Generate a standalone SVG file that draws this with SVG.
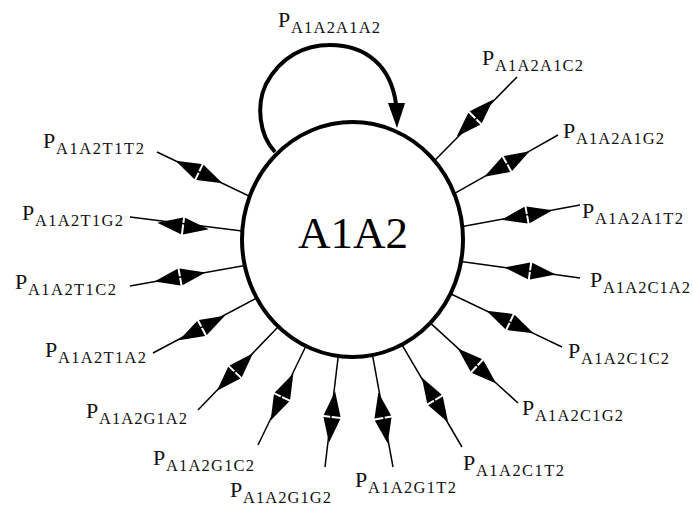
<svg xmlns="http://www.w3.org/2000/svg" width="693" height="506" viewBox="0 0 693 506">
  <style>
    .spoke { stroke: #000; stroke-width: 1.5; fill: none; }
    .loop { stroke: #000; stroke-width: 4; fill: none; }
    .node { stroke: #000; stroke-width: 4; fill: #fff; }
    .head { fill: #000; }
    .p { font-family: "Liberation Serif", "Times New Roman", serif; font-size: 22px; fill: #111; }
    .s { font-family: "Liberation Serif", "Times New Roman", serif; font-size: 16.5px; fill: #111; }
    .big { font-family: "Liberation Serif", "Times New Roman", serif; font-size: 45px; fill: #000; }
  </style>
  <defs>
    <!-- double arrowhead: two heads base to base with a thin white split -->
    <g id="dbl">
      <path class="head" d="M-26,0 L-1,-8.5 L-1,8.5 Z"/>
      <path class="head" d="M26,0 L1,-8.5 L1,8.5 Z"/>
    </g>
  </defs>
  <rect width="693" height="506" fill="#fff"/>

  <g id="connectors">
    <line class="spoke" x1="427.5" y1="167.7" x2="517" y2="77"/>
    <use href="#dbl" transform="translate(475,118) rotate(-45.4)"/>
    <line class="spoke" x1="444" y1="199.4" x2="558" y2="135"/>
    <use href="#dbl" transform="translate(507,164) rotate(-29.4)"/>
    <line class="spoke" x1="450.2" y1="228.7" x2="580" y2="205"/>
    <use href="#dbl" transform="translate(527,215) rotate(-10.3)"/>
    <line class="spoke" x1="450.1" y1="259.9" x2="580" y2="278"/>
    <use href="#dbl" transform="translate(530,271) rotate(7.9)"/>
    <line class="spoke" x1="439.5" y1="288.5" x2="562" y2="347"/>
    <use href="#dbl" transform="translate(510,322) rotate(25.5)"/>
    <line class="spoke" x1="426.9" y1="319.9" x2="518" y2="403"/>
    <use href="#dbl" transform="translate(477,366) rotate(42.4)"/>
    <line class="spoke" x1="400.4" y1="342.1" x2="462" y2="447"/>
    <use href="#dbl" transform="translate(435,400) rotate(59.6)"/>
    <line class="spoke" x1="370.3" y1="343.2" x2="393" y2="467"/>
    <use href="#dbl" transform="translate(383,418) rotate(79.6)"/>
    <line class="spoke" x1="339.8" y1="343.1" x2="325" y2="467"/>
    <use href="#dbl" transform="translate(332,417) rotate(96.8)"/>
    <line class="spoke" x1="311.5" y1="334.5" x2="258" y2="445"/>
    <use href="#dbl" transform="translate(282,397) rotate(115.9)"/>
    <line class="spoke" x1="287.4" y1="317.2" x2="198" y2="410"/>
    <use href="#dbl" transform="translate(235,372) rotate(133.9)"/>
    <line class="spoke" x1="266.2" y1="293" x2="153" y2="353"/>
    <use href="#dbl" transform="translate(202,328) rotate(152)"/>
    <line class="spoke" x1="256.8" y1="263.4" x2="130" y2="286"/>
    <use href="#dbl" transform="translate(180,277) rotate(169.9)"/>
    <line class="spoke" x1="256.9" y1="232.9" x2="130" y2="217"/>
    <use href="#dbl" transform="translate(183,226) rotate(187.1)"/>
    <line class="spoke" x1="260.5" y1="201.5" x2="157" y2="152"/>
    <use href="#dbl" transform="translate(199,172) rotate(205.5)"/>
  </g>

  <g id="node-A1A2">
    <ellipse class="node" cx="352.5" cy="239.5" rx="110.5" ry="117.5"/>
    <text class="big" x="298" y="248">A1A2</text>
  </g>

  <g id="self-loop">
    <path class="loop" d="M275,152 C259,135 256,105 266,84 C281,56 305,45 330,45 C366,45 391,66 396,104"/>
    <polygon class="head" points="388,103 405,103 397,128"/>
  </g>

  <g id="labels">
    <text class="p" x="278" y="27">P</text><text class="s" x="291" y="33" textLength="89" lengthAdjust="spacing">A1A2A1A2</text>
    <text class="p" x="482" y="65">P</text><text class="s" x="495" y="71" textLength="88" lengthAdjust="spacing">A1A2A1C2</text>
    <text class="p" x="563" y="138">P</text><text class="s" x="576" y="144" textLength="88" lengthAdjust="spacing">A1A2A1G2</text>
    <text class="p" x="582" y="218">P</text><text class="s" x="595" y="224" textLength="88" lengthAdjust="spacing">A1A2A1T2</text>
    <text class="p" x="590" y="287">P</text><text class="s" x="603" y="293" textLength="87" lengthAdjust="spacing">A1A2C1A2</text>
    <text class="p" x="568" y="358">P</text><text class="s" x="581" y="364" textLength="88" lengthAdjust="spacing">A1A2C1C2</text>
    <text class="p" x="522" y="415">P</text><text class="s" x="535" y="421" textLength="88" lengthAdjust="spacing">A1A2C1G2</text>
    <text class="p" x="463" y="470">P</text><text class="s" x="476" y="476" textLength="88" lengthAdjust="spacing">A1A2C1T2</text>
    <text class="p" x="355" y="487">P</text><text class="s" x="368" y="493" textLength="88" lengthAdjust="spacing">A1A2G1T2</text>
    <text class="p" x="230" y="497">P</text><text class="s" x="243" y="503" textLength="88" lengthAdjust="spacing">A1A2G1G2</text>
    <text class="p" x="153" y="465">P</text><text class="s" x="166" y="471" textLength="88" lengthAdjust="spacing">A1A2G1C2</text>
    <text class="p" x="86" y="418">P</text><text class="s" x="99" y="424" textLength="88" lengthAdjust="spacing">A1A2G1A2</text>
    <text class="p" x="45" y="357">P</text><text class="s" x="58" y="363" textLength="88" lengthAdjust="spacing">A1A2T1A2</text>
    <text class="p" x="15" y="289">P</text><text class="s" x="28" y="295" textLength="88" lengthAdjust="spacing">A1A2T1C2</text>
    <text class="p" x="22" y="220">P</text><text class="s" x="35" y="226" textLength="88" lengthAdjust="spacing">A1A2T1G2</text>
    <text class="p" x="43" y="148">P</text><text class="s" x="56" y="154" textLength="88" lengthAdjust="spacing">A1A2T1T2</text>
  </g>
</svg>
